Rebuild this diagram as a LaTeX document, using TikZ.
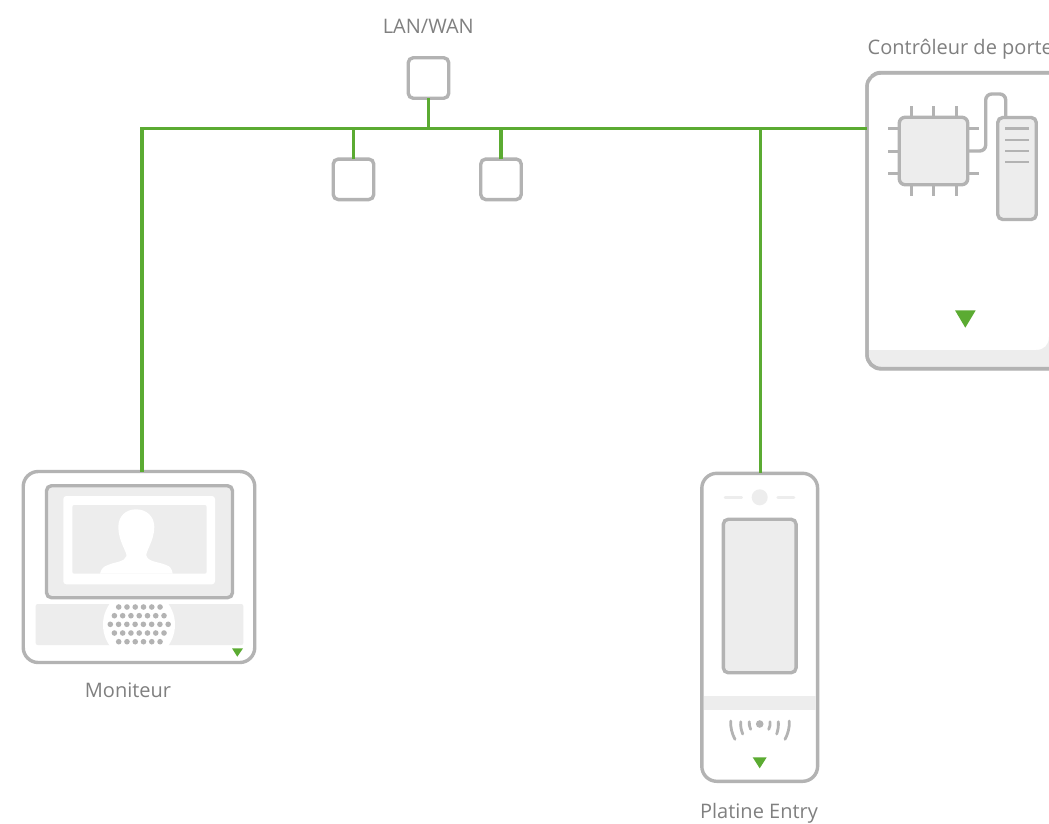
\documentclass[tikz,border=0pt]{standalone}
\usepackage{fontspec}
\setmainfont{Open Sans}
\definecolor{edgegray}{HTML}{B3B3B3}
\definecolor{panel}{HTML}{EDEDED}
\definecolor{wire}{HTML}{5BAB32}
\definecolor{labelgray}{HTML}{808080}
\tikzset{
  box/.style={draw=edgegray,line width=3.4pt,rounded corners=#1,inner sep=0pt,outer sep=0pt,rectangle},
  box/.default=5pt,
  wireline/.style={draw=wire,line width=3.2pt},
  mark tri/.style={fill=wire,draw=none},
  lbl/.style={text=labelgray,font=\fontsize{20}{24}\selectfont,inner sep=0pt},
  pin/.style={draw=edgegray,line width=3pt},
  soft/.style={draw=panel,line width=2.5pt,line cap=round},
  wave/.style={draw=edgegray,line width=2.8pt,line cap=round}
}
\begin{document}
\begin{tikzpicture}[x=1pt,y=-1pt]
\useasboundingbox (0,0) rectangle (1049,823);
\fill[white] (0,0) rectangle (1049,823);

% LAN boxes
\node[box,minimum width=40.5pt,minimum height=40.5pt] (lan) at (428.5,78) {};
\node[box,minimum width=40.5pt,minimum height=40.5pt] (netA) at (353.5,179.3) {};
\node[box,minimum width=40.5pt,minimum height=40.5pt] (netB) at (501,179.3) {};
\node[lbl] (lanlabel) at (428.3,26.5) {LAN/WAN};

% Controller
\node[box=14pt,fill=panel,minimum width=210pt,minimum height=296.5pt] (ctrl) at (972,220.7) {};
\fill[white] (868.5,74.7) -- (1060,74.7) -- (1060,350) -- (868.5,350) -- cycle;
\fill[panel] (1036,350) -- (1049,350) -- (1049,337) .. controls (1049,345) and (1044,350) .. (1036,350) -- cycle;
\draw[edgegray,line width=3.4pt,rounded corners=14pt] (1075,73) -- (867,73) -- (867,368.5) -- (1075,368.5);
\node[lbl,anchor=base west] (ctrllabel) at (867.5,54) {Contrôleur de porte};

% Chip
\foreach \p in {911,933,956}{
  \draw[pin] (\p,106) -- (\p,196);
}
\foreach \p in {128.7,173}{
  \draw[pin] (888,\p) -- (979,\p);
}
\draw[pin] (888,151) -- (899,151);
\node[box=6pt,fill=panel,minimum width=68.5pt,minimum height=67.5pt] (chip) at (933.5,151) {};
\node[box=5pt,fill=panel,minimum width=38.5pt,minimum height=102pt] (card) at (1017,168.5) {};
\coordinate (loop) at (1005.7,94);
\draw[pin,line width=3.4pt,rounded corners=6pt] (chip.east) -- (985.7,151) -- (985.7,94) -- (loop) -- (loop |- card.north);
\foreach \p in {128.7,140,151,162}{
  \draw[edgegray,line width=2.8pt] (1005,\p) -- (1029,\p);
}
\fill[mark tri] (955,310.3) -- (975.7,310.3) -- (965.3,327.7) -- cycle;

% Monitor
\node[box=15pt,minimum width=231.5pt,minimum height=191pt] (monitor) at (139,567) {};
\node[box=5pt,fill=panel,minimum width=186pt,minimum height=112pt] (screen) at (139.5,541.7) {};
\fill[white,rounded corners=3pt] (63.3,496) rectangle (215,584.3);
\fill[panel,rounded corners=2pt] (72.3,505) rectangle (206.7,573.7);
\fill[white] (100,573.7) .. controls (101,569) and (104,566) .. (108,565)
  .. controls (114,562) and (125,562) .. (126.5,556)
  .. controls (127,552) and (118.3,541) .. (118.3,527)
  .. controls (118.3,516) and (126,509.3) .. (136,509.3)
  .. controls (146,509.3) and (154.3,516) .. (154.3,527)
  .. controls (154.3,541) and (145,552) .. (146.5,556)
  .. controls (148,562) and (160,562) .. (166,565)
  .. controls (170,566) and (172,569) .. (172.7,573.7) -- cycle;
\fill[panel,rounded corners=2pt] (35.7,604) rectangle (243.3,645);
\begin{scope}
  \clip (35.7,604) rectangle (243.3,645);
  \fill[white] (139,624.7) circle (36);
\end{scope}
\foreach \y/\n/\s in {607/6/118.7,615.7/7/114.4,624.3/8/110.3,633/7/114.4,641.7/6/118.7}{
  \foreach \i in {1,...,\n}{
    \fill[edgegray] ({\s+(\i-1)*8.27},\y) circle (2.8);
  }
}
\fill[mark tri] (232,648.3) -- (243,648.3) -- (237.3,656.7) -- cycle;
\node[lbl] (monlabel) at (128,690.5) {Moniteur};

% Entry panel
\node[box=15pt,minimum width=115.8pt,minimum height=308pt] (entry) at (759.7,627.3) {};
\fill[panel] (703.5,696) rectangle (816,710);
\fill[panel] (759.7,497.3) circle (8);
\draw[soft] (725,497.3) -- (741.7,497.3);
\draw[soft] (777.7,497.3) -- (794,497.3);
\node[box=5pt,fill=panel,minimum width=72.8pt,minimum height=153.5pt] (display) at (759.7,596) {};
\fill[edgegray] (759.7,724) circle (3.8);
\draw[wave] (749.3,721.7) .. controls (748.8,724) and (749.6,727) .. (750.7,729.3);
\draw[wave] (770,721.7) .. controls (770.6,724) and (769.8,727) .. (768.7,729.3);
\draw[wave] (740.7,721.7) .. controls (740.3,726) and (741.2,730) .. (742.7,734);
\draw[wave] (778.3,721.7) .. controls (778.7,726) and (778,730) .. (776.7,734);
\draw[wave] (730.7,721) .. controls (730.3,727) and (732,734) .. (735,739.3);
\draw[wave] (789.3,721) .. controls (789.7,727) and (788,734) .. (785,739.3);
\fill[mark tri] (752.7,757.3) -- (766.7,757.3) -- (759.7,768.3) -- cycle;
\node[lbl] (entrylabel) at (759,813) {Platine Entry};

% Connectors
\coordinate (busL) at (142,128.5);
\coordinate (tapEntry) at (760.5,128.5);
\draw[wireline] (busL |- monitor.north) -- (busL) -- (busL -| ctrl.west);
\draw[wireline] (lan.south) -- (lan.south |- busL);
\draw[wireline] (netA.north) -- (netA.north |- busL);
\draw[wireline] (netB.north) -- (netB.north |- busL);
\draw[wireline] (tapEntry) -- (tapEntry |- entry.north);
\end{tikzpicture}
\end{document}
